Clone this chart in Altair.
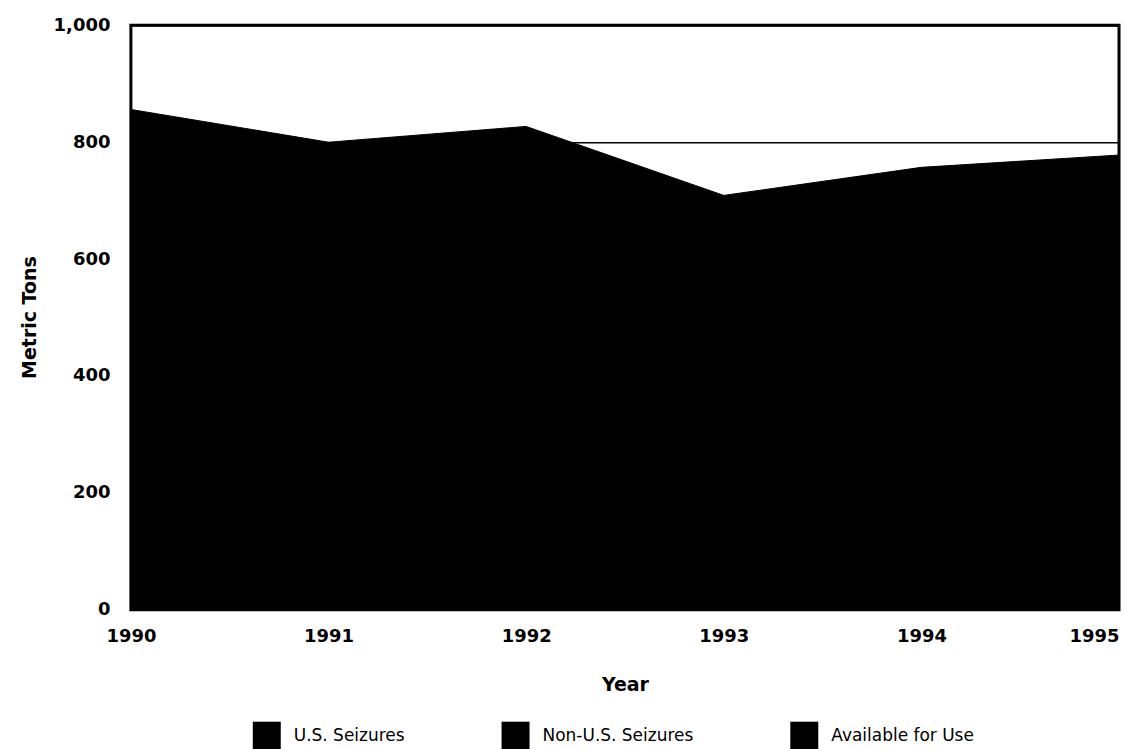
import altair as alt
import pandas as pd

years = [1990, 1991, 1992, 1993, 1994, 1995]
series_names = ["U.S. Seizures", "Non-U.S. Seizures", "Available for Use"]
us_seizures = [106, 107, 120, 110, 130, 110]
non_us_seizures = [160, 180, 180, 160, 200, 180]
available_for_use = [590, 513, 527, 439, 427, 488]
y_ticks = [0, 200, 400, 600, 800, 1000]

rows = []
for i, yr in enumerate(years):
    rows.append({"Year": yr, "Series": "Available for Use", "Tons": available_for_use[i], "ord": 0})
    rows.append({"Year": yr, "Series": "Non-U.S. Seizures", "Tons": non_us_seizures[i], "ord": 1})
    rows.append({"Year": yr, "Series": "U.S. Seizures", "Tons": us_seizures[i], "ord": 2})
df = pd.DataFrame(rows)

BOLD = "DejaVu Sans"
REG = "DejaVu Sans"

chart = alt.Chart(df).mark_area(stroke="black", strokeWidth=1, opacity=1).encode(
    x=alt.X(
        "Year:Q",
        scale=alt.Scale(domain=[1990, 1995], nice=False, zero=False),
        axis=alt.Axis(
            values=years, format="d", ticks=False, domain=False, grid=False,
            labelFont=BOLD, labelFontSize=18, labelFontWeight="bold", labelColor="black",
            labelPadding=18,
            labelAlign={"expr": "datum.value == 1995 ? 'right' : 'center'"},
            title="Year", titleFont=BOLD, titleFontSize=19, titleFontWeight="bold",
            titleColor="black", titleY=75, titleBaseline="middle",
        ),
    ),
    y=alt.Y(
        "Tons:Q",
        stack="zero",
        scale=alt.Scale(domain=[0, 1000], nice=False),
        axis=alt.Axis(
            values=y_ticks, format=",d", ticks=False, domain=False,
            grid=True, gridColor="black", gridWidth=1.5, gridOpacity=1,
            labelFont=BOLD, labelFontSize=18, labelFontWeight="bold", labelColor="black",
            labelPadding=21,
            title="Metric Tons", titleFont=BOLD, titleFontSize=19, titleFontWeight="bold",
            titleColor="black", titleX=-101, titleY=292, titleBaseline="middle",
            titleAlign="center",
        ),
    ),
    color=alt.Color(
        "Series:N",
        scale=alt.Scale(domain=series_names, range=["black", "black", "black"]),
        legend=alt.Legend(
            title=None, orient="none", legendX=122, legendY=697,
            direction="horizontal", columns=3, columnPadding=96,
            symbolType="square", symbolSize=784, symbolStrokeWidth=0,
            symbolFillColor="black", symbolOpacity=1,
            labelFont=REG, labelFontSize=17, labelColor="black", labelOffset=13,
            labelLimit=400, padding=0,
        ),
    ),
    order=alt.Order("ord:Q"),
).properties(
    width=989,
    height=585,
    background="white",
    autosize=alt.AutoSizeParams(type="none"),
    padding={"left": 123, "top": 17, "right": 20, "bottom": 139},
).configure_view(
    stroke="black", strokeWidth=3
)

chart.save("out.html", embed_options={"renderer": "svg", "actions": False})
